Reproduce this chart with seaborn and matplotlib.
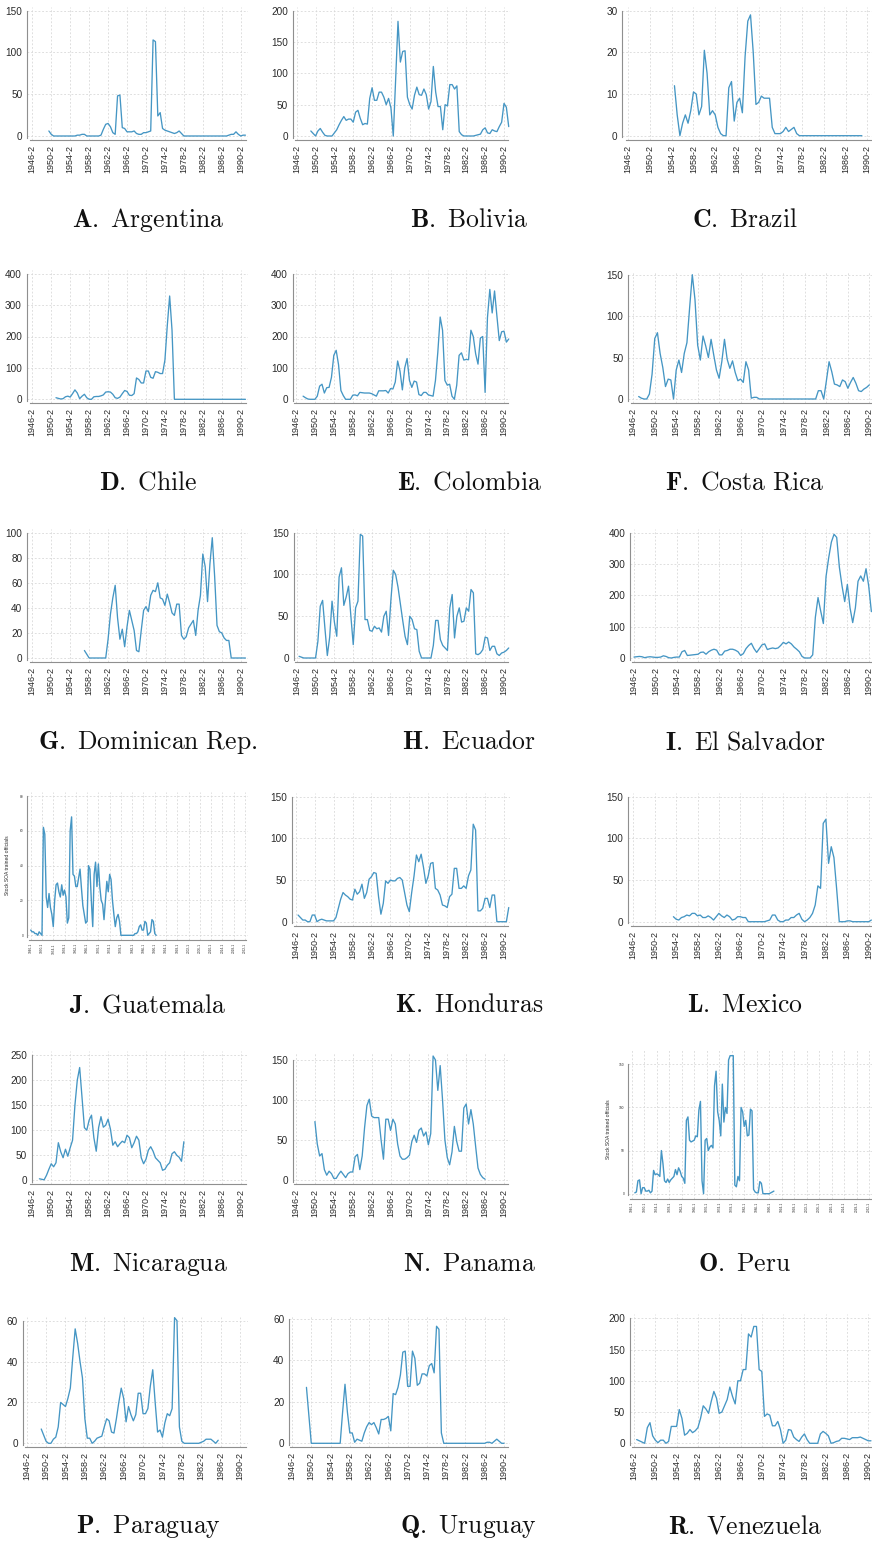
import numpy as np
import pandas as pd
import matplotlib
matplotlib.use("Agg")
import matplotlib.pyplot as plt
import seaborn as sns

sns.set_theme(style="white")
plt.rcParams["font.family"] = ["Liberation Sans", "DejaVu Sans"]
plt.rcParams["mathtext.fontset"] = "cm"

# ---------------------------------------------------------------------------
# Stock of SOA-trained officials per semester ("YYYY-h"), one list per country.
# Each series starts at the semester given in *_START.
# ---------------------------------------------------------------------------
ARG_START = "1950-1"
ARG = [6, 2, 0, 0, 0, 0, 0, 0, 0, 0, 0, 0, 1, 1, 2, 2, 0, 0, 0, 0, 0, 0, 1, 8, 14, 15,
       11, 4, 2, 48, 49, 10, 9, 5, 5, 5, 6, 3, 2, 2, 4, 4, 5, 6, 115, 113, 24, 28, 9, 7,
       6, 5, 4, 3, 4, 6, 3, 0, 0, 0, 0, 0, 0, 0, 0, 0, 0, 0, 0, 0, 0, 0, 0, 0, 0, 0,
       1, 2, 2, 5, 2, 0, 1, 1]

BOL_START = "1949-2"
BOL = [8, 4, 0, 8, 12, 6, 1, 0, 0, 0, 5, 10, 18, 25, 31, 25, 27, 27, 22, 38, 41, 28,
       18, 20, 19, 60, 77, 57, 57, 70, 70, 62, 50, 60, 45, 0, 90, 183, 118, 135, 136,
       62, 50, 43, 65, 78, 66, 65, 75, 66, 43, 55, 111, 70, 47, 47, 10, 50, 48, 82, 82,
       75, 80, 7, 2, 0, 0, 0, 0, 0, 1, 2, 3, 10, 13, 5, 4, 10, 8, 7, 15, 22, 52, 46, 15]

BRA_START = "1955-1"
BRA = [12, 5, 0, 3, 5, 3, 6, 10.5, 10, 5, 7, 20.5, 15, 5, 6, 5, 2, 0.5, 0, 0, 11.5,
       13, 3.5, 8, 9, 5.5, 19, 27.5, 29, 20, 7.5, 8, 9.5, 9, 9, 9, 2, 0.5, 0.5, 0.5, 1,
       2, 1, 1.5, 2, 0.5, 0, 0, 0, 0, 0, 0, 0, 0, 0, 0, 0, 0, 0, 0, 0, 0, 0, 0, 0, 0,
       0, 0, 0, 0]

CHL_START = "1951-2"
CHL = [5, 3, 1, 2, 8, 10, 7, 18, 30, 20, 2, 10, 16, 5, 0, 0, 8, 9, 9, 11, 14, 23, 24,
       23, 16, 5, 3, 7, 18, 28, 25, 13, 12, 18, 68, 63, 52, 52, 90, 90, 70, 67, 88, 86,
       82, 82, 125, 235, 329, 220, 0, 0, 0, 0, 0, 0, 0, 0, 0, 0, 0, 0, 0, 0, 0, 0, 0,
       0, 0, 0, 0, 0, 0, 0, 0, 0, 0, 0, 0, 0, 0]

COL_START = "1948-1"
COL = [10, 5, 1, 0, 0, 0, 10, 42, 48, 20, 37, 38, 70, 140, 156, 110, 28, 12, 0, 0, 0,
       13, 14, 11, 22, 21, 20, 20, 20, 18, 14, 10, 27, 27, 27, 28, 20, 34, 33, 55, 122,
       90, 30, 100, 130, 60, 38, 58, 55, 15, 12, 22, 22, 14, 12, 10, 60, 150, 262, 220,
       60, 45, 48, 10, 0, 45, 140, 148, 125, 127, 126, 220, 200, 145, 112, 195, 200, 22,
       260, 350, 275, 345, 265, 187, 215, 217, 182, 192]

CRI_START = "1947-2"
CRI = [3, 1, 0, 0, 6, 30, 73, 80, 55, 38, 15, 24, 23, 0, 35, 47, 32, 55, 68, 110, 150,
       120, 65, 47, 76, 64, 50, 72, 53, 35, 25, 45, 72, 48, 37, 46, 32, 22, 24, 20, 45,
       35, 1, 2, 2, 0, 0, 0, 0, 0, 0, 0, 0, 0, 0, 0, 0, 0, 0, 0, 0, 0, 0, 0, 0, 0, 0,
       10, 10, 0, 22, 45, 33, 18, 17, 15, 23, 21, 13, 20, 26, 19, 10, 9, 12, 14, 17]

DOM_START = "1957-2"
DOM = [6, 3, 0, 0, 0, 0, 0, 0, 0, 0, 15, 35, 48, 58, 32, 15, 23, 9, 25, 38, 30, 22, 6,
       5, 22, 38, 41, 37, 50, 54, 53, 60, 48, 47, 42, 51, 44, 36, 34, 43, 43, 18, 15,
       17, 24, 27, 30, 18, 38, 50, 83, 73, 45, 75, 96, 65, 26, 21, 20, 16, 14, 14, 0,
       0, 0, 0, 0, 0, 0]

ECU_START = "1947-1"
ECU = [2, 1, 0, 0, 0, 0, 0, 0, 20, 62, 69, 35, 3, 25, 68, 43, 26, 97, 108, 63, 73, 86,
       50, 16, 60, 68, 148, 146, 46, 46, 33, 32, 38, 35, 36, 31, 50, 56, 27, 70, 105,
       100, 85, 65, 45, 26, 16, 50, 46, 35, 34, 8, 0, 0, 0, 0, 0, 15, 45, 45, 22, 15,
       12, 9, 60, 76, 24, 50, 60, 43, 44, 60, 56, 82, 78, 5, 4, 6, 10, 25, 24, 9, 14,
       14, 5, 3, 6, 7, 9, 12]

SLV_START = "1946-2"
SLV = [3, 4, 5, 4, 1, 3, 4, 3, 2, 2, 3, 7, 5, 1, 0, 2, 3, 3, 20, 24, 8, 9, 10, 11, 12,
       18, 19, 12, 20, 25, 28, 25, 10, 10, 22, 24, 28, 28, 25, 20, 8, 14, 30, 40, 47,
       30, 18, 30, 42, 45, 27, 30, 32, 30, 32, 40, 50, 45, 51, 45, 35, 28, 20, 5, 0, 0,
       0, 10, 130, 193, 150, 110, 260, 320, 370, 395, 385, 290, 230, 180, 235, 160, 113,
       160, 245, 262, 245, 285, 230, 148]

GTM_START = "1946-1"
GTM = [3, 2, 2, 1, 1, 0, 2, 1, 0, 62, 58, 22, 16, 24, 16, 12, 5, 20, 29, 30, 25, 22,
       29, 23, 26, 22, 7, 10, 60, 68, 35, 34, 28, 28, 33, 38, 27, 17, 12, 7, 8, 40, 38,
       20, 5, 35, 42, 28, 41, 28, 20, 18, 9, 20, 31, 25, 35, 32, 20, 12, 5, 10, 12, 8,
       0, 0, 0, 0, 0, 0, 0, 0, 0, 0, 1, 1, 2, 5, 6, 3, 3, 8, 7, 0, 1, 2, 9, 8, 1, 0]

HND_START = "1947-1"
HND = [8, 5, 2, 2, 0, 0, 8, 8, 0, 2, 3, 2, 1, 1, 1, 1, 5, 16, 27, 35, 32, 30, 27, 26,
       39, 33, 36, 45, 28, 35, 51, 54, 59, 58, 30, 9, 22, 49, 46, 50, 49, 49, 52, 53,
       50, 35, 20, 12, 35, 55, 80, 72, 81, 65, 46, 55, 70, 71, 40, 38, 32, 20, 19, 17,
       30, 33, 64, 64, 40, 40, 43, 40, 55, 62, 117, 110, 13, 13, 16, 28, 28, 17, 32,
       32, 0, 0, 0, 0, 0, 17]

MEX_START = "1954-1"
MEX = [6, 3, 2, 5, 6, 8, 7, 10, 10, 7, 8, 5, 5, 7, 5, 2, 6, 10, 7, 5, 8, 6, 2, 3, 6, 6,
       5, 5, 0, 0, 0, 0, 0, 0, 0, 1, 2, 8, 8, 2, 0, 0, 2, 2, 5, 5, 8, 10, 3, 0, 2, 5,
       10, 20, 43, 40, 118, 123, 70, 90, 77, 40, 0, 0, 0, 1, 1, 0, 0, 0, 0, 0, 0, 0, 2]

NIC_START = "1948-1"
NIC = [3, 2, 1, 10, 22, 33, 27, 35, 75, 57, 45, 62, 48, 65, 80, 150, 200, 225, 165,
       105, 100, 120, 130, 85, 58, 105, 127, 106, 110, 122, 102, 70, 77, 67, 73, 78,
       75, 90, 85, 65, 75, 88, 80, 45, 33, 42, 60, 67, 58, 45, 40, 35, 20, 22, 30, 35,
       53, 57, 50, 46, 38, 77]

PAN_START = "1950-2"
PAN = [73, 45, 30, 33, 13, 6, 11, 8, 2, 2, 7, 11, 7, 3, 8, 10, 10, 29, 32, 13, 30, 65,
       93, 101, 80, 78, 78, 78, 50, 26, 76, 76, 62, 76, 70, 45, 30, 26, 26, 28, 31, 48,
       56, 47, 62, 65, 55, 60, 44, 58, 155, 150, 112, 143, 100, 50, 28, 19, 35, 67, 48,
       36, 36, 90, 95, 70, 88, 70, 42, 15, 7, 3, 1]

PER_START = "1947-1"
PER = [1, 2, 15, 16, 0, 7, 7, 3, 3, 4, 1, 3, 27, 22, 23, 22, 20, 50, 35, 15, 13, 17,
       13, 16, 18, 20, 28, 22, 30, 26, 20, 18, 12, 85, 89, 62, 60, 61, 62, 67, 66, 97,
       107, 15, 0, 62, 64, 50, 54, 56, 53, 125, 142, 95, 85, 67, 127, 83, 100, 93, 155,
       160, 160, 160, 10, 8, 20, 15, 100, 95, 78, 85, 67, 68, 98, 96, 5, 2, 1, 1, 14,
       12, 0, 0, 0, 0, 0, 1, 2, 3]

PRY_START = "1949-2"
PRY = [7, 4, 1, 0, 0, 2, 3, 8, 20, 19, 18, 22, 27, 42, 56, 49, 40, 32, 12, 2.5, 2.5,
       0, 1, 2.5, 3, 3.5, 8, 12, 11, 5.5, 5, 12, 20, 27, 22, 10.5, 18, 14, 11, 14,
       24.5, 24.5, 14.5, 14.5, 17, 28, 36, 20, 5.5, 6.5, 3, 10, 14.5, 13.5, 17, 61.5,
       60, 8, 1, 0, 0, 0, 0, 0, 0, 0, 0.5, 1, 2, 2, 2, 1, 0, 1.5]

URY_START = "1949-2"
URY = [27, 13.5, 0, 0, 0, 0, 0, 0, 0, 0, 0, 0, 0, 0, 0, 15, 28.5, 15, 5, 5, 0.5, 2,
       1.5, 1, 5, 8, 10, 9, 10, 7.5, 4.5, 11.5, 11.5, 12, 13, 6, 24, 23.5, 27, 33, 44,
       44.5, 27.5, 27.5, 44.5, 41, 28, 29, 33.5, 33.5, 32.5, 37.5, 38.5, 34, 56.5, 55,
       5, 0, 0, 0, 0, 0, 0, 0, 0, 0, 0, 0, 0, 0, 0, 0, 0, 0, 0, 0.5, 0.5, 0, 1, 2, 1,
       0, 0]

VEN_START = "1947-1"
VEN = [6, 4, 2, 0, 25, 33, 12, 5, 1, 5, 5, 0, 3, 27, 27, 27, 54, 40, 13, 16, 22, 17,
       20, 25, 40, 60, 55, 48, 67, 83, 72, 48, 50, 60, 70, 90, 75, 63, 100, 100, 118,
       118, 175, 170, 187, 187, 118, 115, 43, 47, 45, 28, 28, 35, 22, 0, 5, 22, 21, 10,
       6, 3, 10, 15, 6, 0, 0, 0, 0, 15, 19, 16, 12, 0, 1, 3, 4, 8, 8, 7, 6, 9, 9, 9,
       10, 8, 6, 4, 4]

# Tick labels of the two x-axis layouts
TICKS_STD = ["1946-2", "1950-2", "1954-2", "1958-2", "1962-2", "1966-2", "1970-2",
             "1974-2", "1978-2", "1982-2", "1986-2", "1990-2"]
TICKS_LONG = ["1946-1", "1950-1", "1954-1", "1958-1", "1962-1", "1966-1", "1970-1",
              "1974-1", "1978-1", "1982-1", "1986-1", "1990-1", "1994-1", "1998-1",
              "2002-1", "2006-1", "2010-1", "2014-1", "2018-1", "2022-1"]

LINE_COLOR = "#4596c4"
GRID_COLOR = "#d9d9d9"
AXIS_COLOR = "#8f8f8f"
TEXT_COLOR = "#2a2a2a"

FIG_W, FIG_H = 872, 1545


def period_index(label):
    """Semesters elapsed since 1946-1."""
    year, half = label.split("-")
    return (int(year) - 1946) * 2 + int(half) - 1


# letter, country, start, values, top y tick, y step, long axis?,
# (spine x, first tick x, last tick x, right x, top tick y, zero y, axis y, headroom) in px
PANELS = [
    ("A", "Argentina", ARG_START, ARG, 150, 50, False, (27.3, 32.3, 240.7, 248, 10.7, 136, 140, 4)),
    ("B", "Bolivia", BOL_START, BOL, 200, 50, False, (292.7, 296.7, 504, 510, 10.7, 136, 140, 4)),
    ("C", "Brazil", BRA_START, BRA, 30, 10, False, (622.3, 628.3, 867.3, 874, 10.7, 135.7, 140, 4)),
    ("D", "Chile", CHL_START, CHL, 400, 100, False, (26.7, 32.3, 240.7, 248, 273.7, 399.3, 403.3, 4)),
    ("E", "Colombia", COL_START, COL, 400, 100, False, (292.7, 296, 504, 510, 273.7, 399.3, 403.3, 4)),
    ("F", "Costa Rica", CRI_START, CRI, 150, 50, False, (628.3, 633.3, 869.3, 874, 274.7, 399, 403, 4)),
    ("G", "Dominican Rep.", DOM_START, DOM, 100, 20, False, (27.3, 32.3, 240.7, 248, 532.7, 658, 662, 4)),
    ("H", "Ecuador", ECU_START, ECU, 150, 50, False, (294, 296.7, 504, 510, 532.7, 658, 662, 4)),
    ("I", "El Salvador", SLV_START, SLV, 400, 100, False, (630, 634, 868.7, 874, 532.7, 658, 662, 4)),
    ("J", "Guatemala", GTM_START, GTM, 80, 20, True, (27, 30.7, 245, 248, 796, 935.3, 940, 4)),
    ("K", "Honduras", HND_START, HND, 150, 50, False, (291.7, 295.7, 504, 510, 796.7, 921.7, 926, 4)),
    ("L", "Mexico", MEX_START, MEX, 150, 50, False, (628.3, 633.3, 868.7, 874, 796.7, 921.7, 926, 4)),
    ("M", "Nicaragua", NIC_START, NIC, 250, 50, False, (31.7, 32.3, 240.7, 248, 1055, 1180.3, 1184.3, 4)),
    ("N", "Panama", PAN_START, PAN, 150, 50, False, (292.7, 296, 504, 510, 1060, 1180, 1184, 8)),
    ("O", "Peru", PER_START, PER, 150, 50, True, (627.7, 631.7, 869.2, 875, 1064.3, 1193.7, 1198.7, 14)),
    ("P", "Paraguay", PRY_START, PRY, 60, 20, False, (22.7, 26.7, 240, 248, 1320.7, 1443.3, 1447, 4)),
    ("Q", "Uruguay", URY_START, URY, 60, 20, False, (289.3, 292, 504, 510, 1319, 1443.3, 1447, 4)),
    ("R", "Venezuela", VEN_START, VEN, 200, 50, False, (630, 634, 868.3, 874, 1318.3, 1443.3, 1447, 4)),
]

TITLE_X = [148, 469, 745]
TITLE_Y = [220, 483, 742, 1005, 1264, 1527]

fig = plt.figure(figsize=(FIG_W / 100, FIG_H / 100), dpi=100)

for k, (letter, country, start, values, ytop, ystep, long_axis, geom) in enumerate(PANELS):
    spine, px_first, px_last, right, top_tick, zero_y, axis_y, headroom = geom
    top_grid = top_tick - headroom

    if long_axis:
        tick_labels = TICKS_LONG
        first_idx = 0
    else:
        tick_labels = TICKS_STD
        first_idx = 1
    tick_idx = [first_idx + 8 * i for i in range(len(tick_labels))]
    last_idx = tick_idx[-1]
    px_per_idx = (px_last - px_first) / (last_idx - first_idx)

    def idx_at(px):
        return first_idx + (px - px_first) / px_per_idx

    val_per_px = ytop / (zero_y - top_tick)

    ax = fig.add_axes([spine / FIG_W, 1 - axis_y / FIG_H,
                       (right - spine) / FIG_W, (axis_y - top_grid) / FIG_H])

    x0 = period_index(start)
    df = pd.DataFrame({"semester": np.arange(len(values)) + x0, "stock": values})
    sns.lineplot(data=df, x="semester", y="stock", ax=ax, color=LINE_COLOR,
                 linewidth=1.0 if long_axis else 0.95, estimator=None)

    ax.set_xlim(idx_at(spine), idx_at(right))
    ax.set_ylim(-(axis_y - zero_y) * val_per_px, (zero_y - top_grid) * val_per_px)

    ax.set_xticks(tick_idx)
    ax.set_xticklabels(tick_labels, rotation=90)
    ax.set_yticks(np.arange(0, ytop + ystep / 2, ystep))

    ax.grid(True, color=GRID_COLOR, linestyle=(0, (2.2, 2.2)), linewidth=0.6)
    ax.set_axisbelow(True)
    for side in ("top", "right"):
        ax.spines[side].set_visible(False)
    for side in ("left", "bottom"):
        ax.spines[side].set_color(AXIS_COLOR)
        ax.spines[side].set_linewidth(0.8)
    ax.spines["left"].set_bounds(-1.5 * val_per_px, ytop)
    ax.spines["bottom"].set_bounds(idx_at(px_first - 2), idx_at(right - 2))

    if long_axis:
        ax.tick_params(axis="both", direction="out", length=1.5, width=0.4,
                       color=AXIS_COLOR, labelcolor=TEXT_COLOR, labelsize=2.3, pad=0.8)
        ax.set_xlabel("")
        ax.set_ylabel("Stock SOA trained officials", fontsize=3.6, color=TEXT_COLOR)
        lab_x = -16.5 / (right - spine)
        lab_y = (axis_y - (top_tick + zero_y) / 2) / (axis_y - top_grid)
        ax.yaxis.set_label_coords(lab_x, lab_y)
    else:
        ax.tick_params(axis="y", direction="out", length=2.5, width=0.6,
                       color=AXIS_COLOR, labelcolor=TEXT_COLOR, labelsize=7.2, pad=1)
        ax.tick_params(axis="x", direction="out", length=2.5, width=0.6,
                       color=AXIS_COLOR, labelcolor=TEXT_COLOR, labelsize=6.5, pad=1)
        ax.set_xlabel("")
        ax.set_ylabel("")

    col, row = k % 3, k // 3
    fig.text(TITLE_X[col] / FIG_W, 1 - TITLE_Y[row] / FIG_H,
             r"$\mathbf{%s.}\ \mathrm{%s}$" % (letter, country.replace(" ", r"\ ")),
             ha="center", va="center", fontsize=18.5, color="#111111")

fig.savefig("out.png", dpi=100)
